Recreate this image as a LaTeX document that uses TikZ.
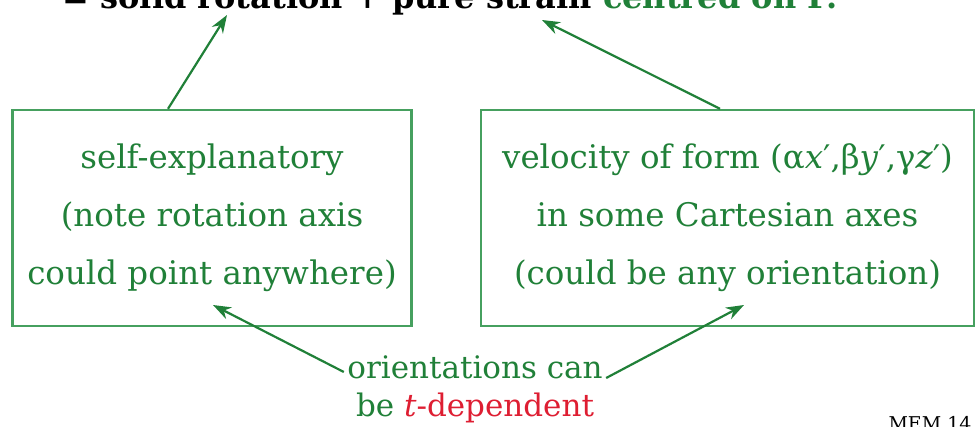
\documentclass[tikz,border=0pt]{standalone}
\usepackage{fontspec}
\setmainfont{DejaVu Serif}
\usepackage{xcolor}
\usetikzlibrary{arrows.meta,positioning}
\definecolor{memgreen}{RGB}{32,128,56}
\definecolor{boxgreen}{RGB}{70,160,95}
\definecolor{memred}{RGB}{222,30,50}

\begin{document}
\begin{tikzpicture}[x=1pt,y=-1pt,
  box/.style={draw=boxgreen,line width=2.4pt,minimum height=216pt,align=center,
              text=memgreen,font=\fontsize{32.5}{58}\selectfont},
  note/.style={align=center,text=memgreen,font=\fontsize{31}{38}\selectfont},
  arr/.style={-{Stealth[length=18pt,width=13pt]},draw=memgreen,line width=2.2pt}]
\useasboundingbox (0,0) rectangle (975,426);
\clip (0,0) rectangle (975,426);
\node[anchor=base,font=\fontsize{32}{34}\selectfont\bfseries] (head) at (450,8)
   {= solid rotation + pure strain \textcolor{memgreen}{centred on P.}};
\node[box,minimum width=399pt] (self) at (212,218)
   {self-explanatory\\(note rotation axis\\could point anywhere)};
\node[box,minimum width=493pt] (velo) at (727.5,218)
   {velocity of form (α\textit{x}′,β\textit{y}′,γ\textit{z}′)\\in some Cartesian axes\\(could be any orientation)};
\node[note] (orient) at (475,389)
   {orientations can\\be \textcolor{memred}{\textit{t}-dependent}};
\node[anchor=base west,font=\fontsize{19}{20}\selectfont] (tag) at (885,430) {MEM 14};
\coordinate (tipA) at (227,15);
\coordinate (tipB) at (542,20);
\coordinate (tipC) at (213,305);
\coordinate (tipD) at (744,305);
\draw[arr] ([xshift=-44pt]self.north) -- (tipA);
\draw[arr] ([xshift=-7.5pt]velo.north) -- (tipB);
\draw[arr] ([yshift=17pt]orient.west) -- (tipC);
\draw[arr] ([yshift=11pt]orient.east) -- (tipD);
\end{tikzpicture}
\end{document}
